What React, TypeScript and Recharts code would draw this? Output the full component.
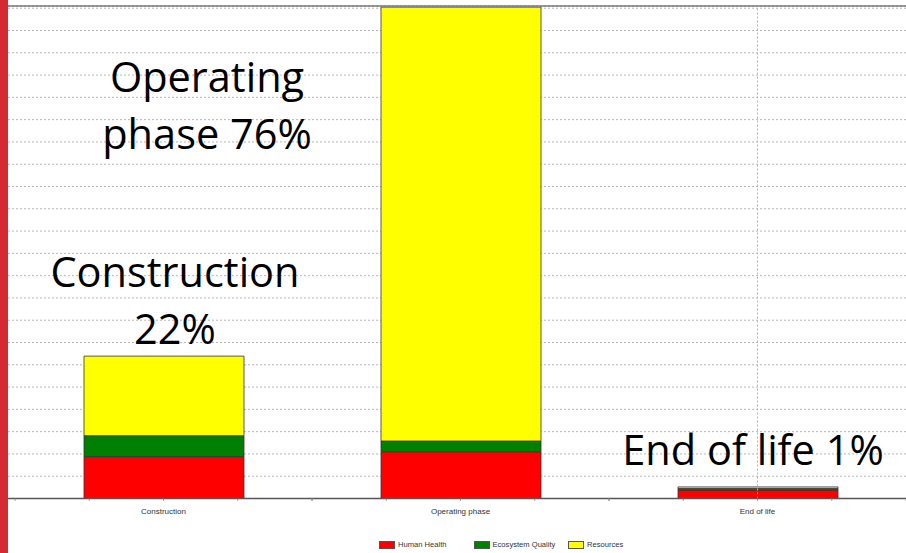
import React from 'react';
import { BarChart, Bar, XAxis, YAxis, CartesianGrid, Legend, ReferenceLine } from 'recharts';

const stages = ['Construction', 'Operating phase', 'End of life'];
const humanHealth = [1.88, 2.1, 0.38];
const ecosystemQuality = [0.94, 0.48, 0.07];
const resources = [3.57, 19.47, 0.07];
const yTicks = [0, 1, 2, 3, 4, 5, 6, 7, 8, 9, 10, 11, 12, 13, 14, 15, 16, 17, 18, 19, 20, 21, 22];

const series = [
    { key: 'hh', name: 'Human Health', color: '#ff0000' },
    { key: 'eq', name: 'Ecosystem Quality', color: '#008000' },
    { key: 'res', name: 'Resources', color: '#ffff00' },
];

const data = stages.map((name, i) => ({
    name,
    hh: humanHealth[i],
    eq: ecosystemQuality[i],
    res: resources[i],
}));

const AxisTick = (props: any) => {
    const { x, y, payload } = props;
    const half = payload && payload.offset ? payload.offset : 148.5;
    const marks = [-2, -1, 0, 1, 2];
    return (
        <g>
            {marks.map((m) => (
                <line key={m} x1={x + (m * half) / 2} x2={x + (m * half) / 2} y1={y} y2={y + 2.5} stroke="#888" strokeWidth={0.8} />
            ))}
            <text x={x} y={y + 13} textAnchor="middle" dominantBaseline="middle" fontSize={8} fill="#333" fontFamily="Liberation Sans, Arial, sans-serif">
                {payload.value}
            </text>
        </g>
    );
};

const LegendBox = () => (
    <div style={{ display: 'flex', fontFamily: 'Liberation Sans, Arial, sans-serif', fontSize: 7.6, lineHeight: '10px', color: '#333' }}>
        {series.map((s) => (
            <div key={s.key} style={{ width: 94.5, display: 'flex', alignItems: 'center', height: 10 }}>
                <span style={{ display: 'inline-block', width: 14, height: 6, background: s.color, border: '0.8px solid #555', marginRight: 3 }} />
                <span>{s.name}</span>
            </div>
        ))}
    </div>
);

const bigText: React.CSSProperties = {
    position: 'absolute',
    fontFamily: '"Open Sans", "Noto Sans", sans-serif',
    fontSize: 41.5,
    color: '#000',
    textAlign: 'center',
    lineHeight: '57px',
    whiteSpace: 'nowrap',
};

const App = () => {
    return (
        <div style={{ position: 'fixed', left: 0, top: 0, width: 906, height: 553, background: '#fff', overflow: 'hidden' }}>
            <BarChart
                width={916}
                height={553}
                data={data}
                margin={{ top: 6, right: 0, left: 8, bottom: 0 }}
                barSize={160}
            >
                <CartesianGrid vertical={false} stroke="#b5b5b5" strokeDasharray="2 2" />
                <XAxis
                    dataKey="name"
                    height={44.5}
                    padding={{ left: 7, right: 10 }}
                    tickSize={0}
                    tickMargin={0}
                    tickLine={false}
                    axisLine={{ stroke: '#555', strokeWidth: 1.5 }}
                    tick={<AxisTick />}
                    interval={0}
                />
                <YAxis hide domain={[0, 22.1]} ticks={yTicks} interval={0} width={0} />
                <ReferenceLine y={22.1} stroke="#777" strokeWidth={1.5} />
                <ReferenceLine x="End of life" stroke="#b5b5b5" strokeDasharray="2 2" />
                {series.map((s) => (
                    <Bar key={s.key} dataKey={s.key} name={s.name} stackId="a" fill={s.color} stroke="#333" strokeWidth={0.8} isAnimationActive={false} />
                ))}
                <Legend
                    verticalAlign="bottom"
                    content={<LegendBox />}
                    wrapperStyle={{ height: 10, top: 540, bottom: 'auto', left: 379, width: 300 }}
                />
            </BarChart>
            <div style={{ position: 'absolute', left: 0, top: 0, width: 8, height: 553, background: '#d32a34' }} />
            <div style={{ ...bigText, left: 57, top: 48, width: 300 }}>
                Operating<br />phase 76%
            </div>
            <div style={{ ...bigText, left: 25, top: 243, width: 300 }}>
                Construction<br />22%
            </div>
            <div style={{ ...bigText, left: 603, top: 421, width: 300 }}>
                End of life 1%
            </div>
        </div>
    );
};

export default App;
